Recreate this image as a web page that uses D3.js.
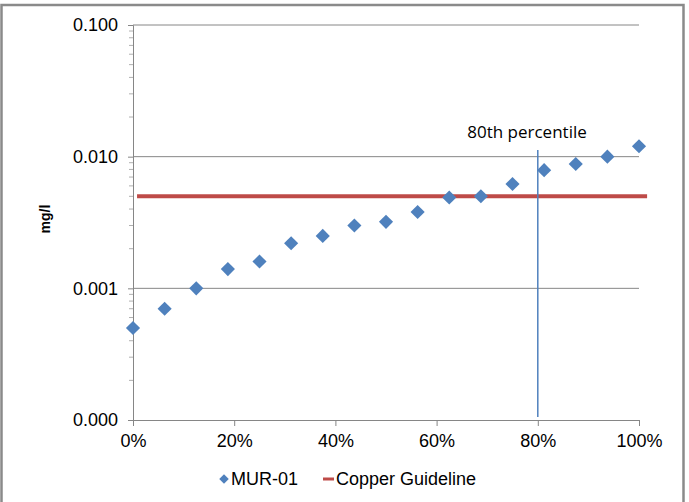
<!DOCTYPE html>
<html>
<head>
<meta charset="utf-8">
<script src="https://cdn.jsdelivr.net/npm/d3@7"></script>
<style>
  body { margin: 0; background: #fff; }
  svg { display: block; }
</style>
</head>
<body>
<div id="chart"></div>
<script>
// percentile positions and MUR-01 copper concentrations (mg/l)
var percentiles = [0, 0.0625, 0.125, 0.1875, 0.25, 0.3125, 0.375, 0.4375, 0.5,
                   0.5625, 0.625, 0.6875, 0.75, 0.8125, 0.875, 0.9375, 1];
var murValues = [0.0005, 0.0007, 0.001, 0.0014, 0.0016, 0.0022, 0.0025, 0.003, 0.0032,
                 0.0038, 0.0049, 0.005, 0.0062, 0.0079, 0.0088, 0.010, 0.012];
var guidelineX = [0.008, 1.016];
var guidelineValue = 0.005;
var yTicks = [0.0001, 0.001, 0.01, 0.1];
var xTicks = [0, 0.2, 0.4, 0.6, 0.8, 1];
var markerX = 0.8;

var w = 689, h = 502;
var plotLeft = 133, plotRight = 639, plotTop = 25, plotBottom = 420;
var blue = "#4f81bd", red = "#be4b48", grey = "#868686";
var font = "Liberation Sans, Arial, sans-serif";

var svg = d3.select("#chart").append("svg")
    .attr("width", w)
    .attr("height", h);

// outer frame
svg.append("rect")
    .attr("x", 1.5).attr("y", 5)
    .attr("width", 682).attr("height", 510)
    .style("fill", "none")
    .style("stroke", "#8a8a8a")
    .style("stroke-width", 2.5);

var x = d3.scaleLinear().domain([0, 1]).range([plotLeft, plotRight]);
var y = d3.scaleLog().domain([0.0001, 0.1]).range([plotBottom, plotTop]);

// gridlines
svg.selectAll("line.grid")
    .data(yTicks.slice(1))
    .enter()
    .append("line")
    .attr("class", "grid")
    .attr("x1", plotLeft).attr("x2", plotRight)
    .attr("y1", function(d) { return y(d); })
    .attr("y2", function(d) { return y(d); })
    .style("stroke", grey)
    .style("stroke-width", 1);

// y axis with log minor ticks
var minor = y.ticks().filter(function(d) {
    return !yTicks.some(function(t) { return Math.abs(t - d) / t < 1e-6; });
});
var yAxis = d3.axisLeft(y)
    .tickValues(yTicks)
    .tickFormat(d3.format(".3f"))
    .tickSize(5)
    .tickPadding(10);
var gy = svg.append("g").attr("transform", "translate(" + plotLeft + ",0)").call(yAxis);
gy.select(".domain").style("stroke", grey);
gy.selectAll(".tick line").style("stroke", grey);
gy.selectAll("text")
    .style("font-family", font)
    .style("font-size", "18px")
    .style("fill", "#000");
gy.selectAll("line.minor")
    .data(minor)
    .enter()
    .append("line")
    .attr("class", "minor")
    .attr("x1", -4).attr("x2", 0)
    .attr("y1", function(d) { return y(d); })
    .attr("y2", function(d) { return y(d); })
    .style("stroke", "#b0b0b0");

// x axis
var xAxis = d3.axisBottom(x)
    .tickValues(xTicks)
    .tickFormat(d3.format(".0%"))
    .tickSize(6)
    .tickPadding(8);
var gx = svg.append("g").attr("transform", "translate(0," + plotBottom + ")").call(xAxis);
gx.select(".domain").style("stroke", grey);
gx.selectAll(".tick line").style("stroke", grey);
gx.selectAll("text")
    .style("font-family", font)
    .style("font-size", "18px")
    .style("fill", "#000");

// y axis title
svg.append("text")
    .attr("transform", "translate(50," + 219 + ") rotate(-90)")
    .attr("text-anchor", "middle")
    .style("font-family", font)
    .style("font-size", "14px")
    .style("font-weight", "bold")
    .text("mg/l");

// copper guideline
svg.append("line")
    .attr("x1", x(guidelineX[0])).attr("x2", x(guidelineX[1]))
    .attr("y1", y(guidelineValue)).attr("y2", y(guidelineValue))
    .style("stroke", red)
    .style("stroke-width", 4);

// 80th percentile marker
svg.append("line")
    .attr("x1", x(markerX)).attr("x2", x(markerX))
    .attr("y1", 150).attr("y2", plotBottom - 3)
    .style("stroke", blue)
    .style("stroke-width", 1.5);
svg.append("text")
    .attr("x", 527)
    .attr("y", 138)
    .attr("text-anchor", "middle")
    .style("font-family", "Open Sans, Liberation Sans, sans-serif")
    .style("font-size", "17px")
    .text("80th percentile");

// data points
var diamond = d3.symbol().type(d3.symbolSquare).size(100);
svg.selectAll("path.pt")
    .data(percentiles)
    .enter()
    .append("path")
    .attr("class", "pt")
    .attr("d", diamond)
    .attr("transform", function(d, i) {
        return "translate(" + x(d) + "," + y(murValues[i]) + ") rotate(45)";
    })
    .style("fill", blue);

// legend
var leg = svg.append("g").attr("transform", "translate(0,479)");
leg.append("path")
    .attr("d", d3.symbol().type(d3.symbolSquare).size(45))
    .attr("transform", "translate(224,0) rotate(45)")
    .style("fill", blue);
leg.append("text")
    .attr("x", 231).attr("y", 6)
    .style("font-family", font)
    .style("font-size", "18px")
    .text("MUR-01");
leg.append("line")
    .attr("x1", 323).attr("x2", 334)
    .attr("y1", 0).attr("y2", 0)
    .style("stroke", red)
    .style("stroke-width", 3);
leg.append("text")
    .attr("x", 336).attr("y", 6)
    .style("font-family", font)
    .style("font-size", "18px")
    .text("Copper Guideline");
</script>
</body>
</html>
